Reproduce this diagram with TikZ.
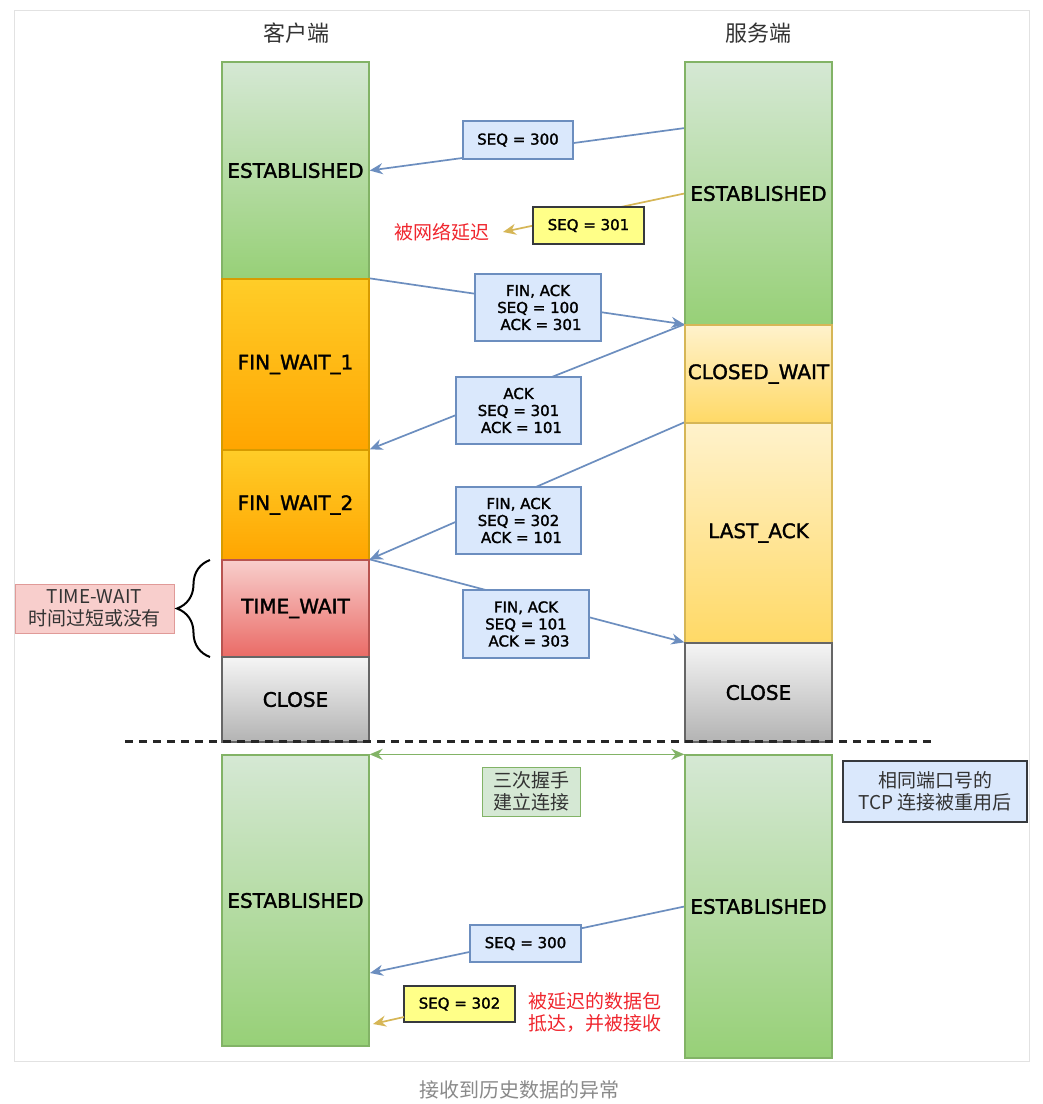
\documentclass[tikz,border=0pt]{standalone}
\usepackage{fontspec}
\setmainfont{DejaVu Sans}
\newfontfamily\statefont[FakeBold=1.6]{DejaVu Sans}
\newfontfamily\cjk{Noto Sans CJK SC}
\usetikzlibrary{arrows.meta,backgrounds,decorations.pathreplacing}
\definecolor{gT}{HTML}{D5E8D4}\definecolor{gD}{HTML}{97D077}\definecolor{gB}{HTML}{82B366}
\definecolor{oT}{HTML}{FFCD28}\definecolor{oD}{HTML}{FFA500}\definecolor{oB}{HTML}{D79B00}
\definecolor{lT}{HTML}{FFF2CC}\definecolor{lD}{HTML}{FFD966}\definecolor{lB}{HTML}{D6B656}
\definecolor{rT}{HTML}{F8CECC}\definecolor{rD}{HTML}{EA6B66}\definecolor{rB}{HTML}{B85450}
\definecolor{hT}{HTML}{F5F5F5}\definecolor{hD}{HTML}{B3B3B3}\definecolor{hB}{HTML}{666666}
\definecolor{mF}{HTML}{DAE8FC}\definecolor{mB}{HTML}{6C8EBF}
\definecolor{yF}{HTML}{FFFF88}\definecolor{yB}{HTML}{36393D}
\definecolor{redT}{HTML}{F0262E}\definecolor{txtC}{HTML}{333333}
\definecolor{capC}{HTML}{8A8A8A}\definecolor{frameC}{HTML}{E2E2E2}
\definecolor{twB}{HTML}{E09A98}
\tikzset{
  stbox/.style={draw, line width=1.3pt, minimum width=147pt, inner sep=0pt,
    font=\statefont\fontsize{20}{22}\selectfont, text=black},
  gst/.style={stbox, draw=gB, top color=gT, bottom color=gD},
  ost/.style={stbox, draw=oB, top color=oT, bottom color=oD},
  lst/.style={stbox, draw=lB, top color=lT, bottom color=lD},
  rst/.style={stbox, draw=rB, top color=rT, bottom color=rD},
  hst/.style={stbox, draw=hB, top color=hT, bottom color=hD},
  msgbox/.style={draw=mB, fill=mF, line width=1.3pt, align=center, inner sep=0pt,
    font=\statefont\fontsize{15}{17}\selectfont},
  ybox/.style={draw=yB, fill=yF, line width=1.5pt, align=center, inner sep=0pt,
    font=\statefont\fontsize{15}{17}\selectfont},
  msg/.style={draw=mB, line width=1.7pt, -{Stealth[length=13pt,width=11pt]}},
  ymsg/.style={draw=lB, line width=1.7pt, -{Stealth[length=13pt,width=11pt]}},
  cjktext/.style={font=\cjk\fontsize{19}{22}\selectfont, align=center},
}
\begin{document}
\begin{tikzpicture}[x=1pt,y=-1pt]
\useasboundingbox (0,0) rectangle (1043,1104);

% titles
\node[font=\cjk\fontsize{22}{24}\selectfont, text=txtC] (tc) at (296,33) {客户端};
\node[font=\cjk\fontsize{22}{24}\selectfont, text=txtC] (ts) at (758,33) {服务端};

% client column
\node[gst, minimum height=217pt] (cE) at (295.5,170.5) {ESTABLISHED};
\node[ost, minimum height=171pt] (cF1) at (295.5,364.5) {FIN\_WAIT\_1};
\node[ost, minimum height=110pt] (cF2) at (295.5,505) {FIN\_WAIT\_2};
\node[rst, minimum height=97pt] (cT) at (295.5,608.5) {TIME\_WAIT};
\node[hst, minimum height=85pt] (cC) at (295.5,699.5) {CLOSE};

% server column
\node[gst, minimum height=263pt] (sE) at (758.5,193.5) {ESTABLISHED};
\node[lst, minimum height=98pt] (sCW) at (758.5,374) {CLOSED\_WAIT};
\node[lst, minimum height=220pt] (sLA) at (758.5,533) {LAST\_ACK};
\node[hst, minimum height=99pt] (sC) at (758.5,692.5) {CLOSE};

% lower columns
\node[gst, minimum height=291pt] (cE2) at (295.5,900.5) {ESTABLISHED};
\node[gst, minimum height=303pt] (sE2) at (758.5,906.5) {ESTABLISHED};

% message boxes
\node[msgbox, minimum width=110pt, minimum height=38pt] (m1) at (518,140) {SEQ = 300};
\node[ybox, minimum width=111pt, minimum height=37pt] (y1) at (588.5,225.5) {SEQ = 301};
\node[text=redT, cjktext] (r1) at (442,232) {被网络延迟};
\node[msgbox, minimum width=126pt, minimum height=67pt] (m2) at (538,307.5) {FIN, ACK\\SEQ = 100\\\hspace*{6pt}ACK = 301};
\node[msgbox, minimum width=125pt, minimum height=67pt] (m3) at (518.5,410.5) {ACK\\SEQ = 301\\\hspace*{6pt}ACK = 101};
\node[msgbox, minimum width=125pt, minimum height=67pt] (m4) at (518.5,520.5) {FIN, ACK\\SEQ = 302\\\hspace*{6pt}ACK = 101};
\node[msgbox, minimum width=126pt, minimum height=68pt] (m5) at (526,624) {FIN, ACK\\SEQ = 101\\\hspace*{6pt}ACK = 303};
\node[msgbox, minimum width=111pt, minimum height=37pt] (m6) at (525.5,943.5) {SEQ = 300};
\node[ybox, minimum width=111pt, minimum height=36pt] (y2) at (459.5,1004) {SEQ = 302};
\node[text=redT, cjktext, anchor=west, align=left] (r2) at (525,1012.5) {被延迟的数据包\\抵达，并被接收};

% side labels
\node[draw=gB, fill=gT, line width=1pt, minimum width=98pt, minimum height=49pt,
      inner sep=0pt, cjktext, text=txtC] (hs) at (531,791.5) {三次握手\\建立连接};
\node[draw=yB, fill=mF, line width=1.5pt, minimum width=184pt, minimum height=61pt,
      inner sep=0pt, cjktext, text=txtC] (reuse) at (935,791.5) {相同端口号的\\TCP 连接被重用后};
\node[draw=twB, fill=rT, line width=1pt, minimum width=159pt, minimum height=49pt,
      inner sep=0pt, cjktext, text=txtC] (tw) at (94.5,608.5) {TIME-WAIT\\时间过短或没有};

% caption
\node[font=\cjk\fontsize{20}{22}\selectfont, text=capC] (cap) at (519,1090) {接收到历史数据的异常};

% helper coordinates
\coordinate (p1) at (685,128);
\coordinate (y1t) at (503,232);
\coordinate (p7) at (370,973);
\coordinate (y2s) at (404,1017);
\coordinate (y2t) at (373,1024);
\coordinate (dl) at (125,741.5);
\coordinate (dr) at (935,741.5);
\coordinate (bt) at (210,560);
\coordinate (bb) at (210,657);

\begin{pgfonlayer}{background}
  \fill[white] (0,0) rectangle (1043,1104);
  \draw[frameC, line width=1pt] (14,10) rectangle (1029,1061);
  \draw[msg] (p1) -- (cE.east);
  \draw[ymsg] (sE.west) -- (y1t);
  \draw[msg] (cF1.north east) -- (sCW.north west);
  \draw[msg] (sCW.north west) -- (cF2.north east);
  \draw[msg] (sLA.north west) -- (cT.north east);
  \draw[msg] (cT.north east) -- (sC.north west);
  \draw[msg] (sE2.west) -- (p7);
  \draw[gB, line width=1.7pt, {Stealth[length=13pt,width=11pt]}-{Stealth[length=13pt,width=11pt]}] (cE2.north east) -- (sE2.north west);
\end{pgfonlayer}
\draw[ymsg] (y2s) -- (y2t);
\draw[black!85, line width=2.2pt, dash pattern=on 8pt off 6pt] (dl) -- (dr);
\draw[black, line width=2pt, decorate, decoration={brace, amplitude=33pt}] (bb) -- (bt);
\end{tikzpicture}
\end{document}
